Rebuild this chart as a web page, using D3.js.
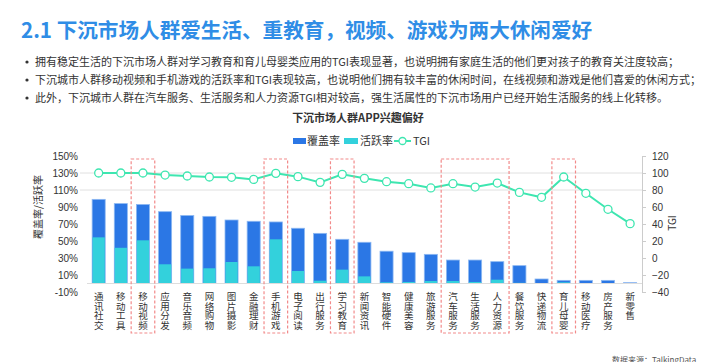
<!DOCTYPE html>
<html lang="zh">
<head>
<meta charset="UTF-8">
<title>下沉市场人群APP兴趣偏好</title>
<script src="https://d3js.org/d3.v7.min.js"></script>
<style>
  body { margin: 0; background: #fff; }
  svg { display: block; font-family: "Noto Sans CJK SC", "Noto Sans", sans-serif; }
</style>
</head>
<body>
<svg width="712" height="362"></svg>
<script>
const categories = ["通讯社交","移动工具","移动视频","应用分发","音乐音频","网络购物","图片摄影","金融理财","手机游戏","电子阅读","出行服务","学习教育","新闻资讯","智能硬件","健康美容","旅游服务","汽车服务","生活服务","人力资源","餐饮服务","快递物流","育儿母婴","移动医疗","房产服务","新零售"];
const coverage = [99, 94, 93, 84.5, 80, 79, 74.7, 73.2, 72.4, 65, 59, 52, 48.5, 38, 36.3, 34.3, 27.6, 27.6, 25.7, 21, 5.3, 3.7, 3.7, 3.7, 1];
const active   = [54.3, 42, 50.8, 22.6, 17.5, 17.9, 25.3, 20.2, 52, 14.7, 3.3, 16.3, 8.4, 1.4, 1.8, 2.9, 2.9, 1.8, 4.5, 0.8, 0.5, 1.4, 0.5, 0.5, 0.3];
const tgi      = [100, 100, 100, 97.6, 96.5, 95.3, 94.9, 92.5, 99.6, 95.7, 89, 98.4, 93.7, 89.8, 87.4, 82.4, 87.4, 83.5, 88.2, 77.2, 71.4, 95.3, 76.1, 57.3, 40.4];
const leftTicks = [-10, 10, 30, 50, 70, 90, 110, 130, 150];
const rightTicks = [-40, -20, 0, 20, 40, 60, 80, 100, 120];
const gridValues = [110, 130];
const highlightGroups = [["移动视频"], ["手机游戏"], ["学习教育"], ["汽车服务", "生活服务", "人力资源"], ["育儿母婴"]];
const bullets = [
  "拥有稳定生活的下沉市场人群对学习教育和育儿母婴类应用的TGI表现显著，也说明拥有家庭生活的他们更对孩子的教育关注度较高；",
  "下沉城市人群移动视频和手机游戏的活跃率和TGI表现较高，也说明他们拥有较丰富的休闲时间，在线视频和游戏是他们喜爱的休闲方式；",
  "此外，下沉城市人群在汽车服务、生活服务和人力资源TGI相对较高，强生活属性的下沉市场用户已经开始生活服务的线上化转移。"
];

const blue = "#2b77e5", cyan = "#33d1dc", green = "#3ee6b0";
const svg = d3.select("svg");

// header
svg.append("text").attr("x", 21).attr("y", 38)
  .attr("fill", "#2f8de6").attr("font-size", 20.6).attr("font-weight", "bold")
  .text("2.1 下沉市场人群爱生活、重教育，视频、游戏为两大休闲爱好");

bullets.forEach((t, i) => {
  const y = 66 + i * 18;
  svg.append("circle").attr("cx", 27).attr("cy", y - 4).attr("r", 1.6).attr("fill", "#333");
  svg.append("text").attr("x", 35).attr("y", y).attr("font-size", 11).attr("fill", "#333").text(t);
});

// chart title + legend
svg.append("text").attr("x", 358).attr("y", 122).attr("text-anchor", "middle")
  .attr("font-size", 11).attr("font-weight", "bold").attr("fill", "#333")
  .text("下沉市场人群APP兴趣偏好");

const legend = svg.append("g").attr("font-size", 11).attr("fill", "#333");
legend.append("rect").attr("x", 293).attr("y", 138).attr("width", 13).attr("height", 6).attr("fill", blue);
legend.append("text").attr("x", 307).attr("y", 145).text("覆盖率");
legend.append("rect").attr("x", 344).attr("y", 138).attr("width", 14).attr("height", 6).attr("fill", cyan);
legend.append("text").attr("x", 360).attr("y", 145).text("活跃率");
legend.append("line").attr("x1", 394).attr("x2", 411).attr("y1", 141).attr("y2", 141).attr("stroke", green).attr("stroke-width", 2);
legend.append("circle").attr("cx", 402.5).attr("cy", 141).attr("r", 3.5).attr("fill", "#fff").attr("stroke", green).attr("stroke-width", 1.3);
legend.append("text").attr("x", 413).attr("y", 145).text("TGI");

// scales
const x = d3.scaleBand().domain(categories).range([87.6, 641.2]).paddingInner(0.41).paddingOuter(0.205);
const yL = d3.scaleLinear().domain([-10, 150]).range([292, 156]);
const yR = d3.scaleLinear().domain([-40, 120]).range([292, 156]);
const cx = d => x(d) + x.bandwidth() / 2;

// grid
svg.selectAll("line.grid").data(gridValues).enter().append("line")
  .attr("x1", 80).attr("x2", 642).attr("y1", d => yL(d)).attr("y2", d => yL(d))
  .attr("stroke", "#e0e0e0");

// left axis (labels only)
const axL = svg.append("g").attr("transform", "translate(80,0)")
  .call(d3.axisLeft(yL).tickValues(leftTicks).tickFormat(d => d + "%").tickSize(0).tickPadding(2));
axL.select(".domain").remove();
axL.selectAll("text").attr("font-size", 10).attr("fill", "#333").attr("font-family", "Liberation Sans, Arial, sans-serif");

svg.append("text").attr("transform", "translate(42,207) rotate(-90)").attr("text-anchor", "middle")
  .attr("font-size", 10).attr("fill", "#333").text("覆盖率/活跃率");

// right axis
const axR = svg.append("g").attr("transform", "translate(642,0)")
  .call(d3.axisRight(yR).tickValues(rightTicks).tickSize(4).tickPadding(6).tickSizeOuter(4));
axR.select(".domain").attr("stroke", "#ccc");
axR.selectAll(".tick line").attr("stroke", "#ccc");
axR.selectAll("text").attr("font-size", 10).attr("fill", "#333").attr("font-family", "Liberation Sans, Arial, sans-serif");

svg.append("text").attr("transform", "translate(676,223) rotate(-90)").attr("text-anchor", "middle")
  .attr("font-size", 10).attr("fill", "#333").text("TGI");

// bars
svg.selectAll("rect.cov").data(categories).enter().append("rect")
  .attr("x", d => x(d)).attr("width", x.bandwidth())
  .attr("y", (d, i) => yL(coverage[i])).attr("height", (d, i) => yL(0) - yL(coverage[i]))
  .attr("fill", blue).attr("stroke", "#8db8f2").attr("stroke-width", 0.8);

svg.selectAll("rect.act").data(categories).enter().append("rect")
  .attr("x", d => x(d) + 0.4).attr("width", x.bandwidth() - 0.8)
  .attr("y", (d, i) => yL(active[i])).attr("height", (d, i) => yL(0) - yL(active[i]))
  .attr("fill", cyan);

// baseline
svg.append("line").attr("x1", 87).attr("x2", 642).attr("y1", yL(0)).attr("y2", yL(0)).attr("stroke", "#ddd");

// x labels, written vertically
svg.selectAll("text.xlab").data(categories).enter().append("text")
  .attr("class", "xlab")
  .attr("x", d => cx(d)).attr("y", 292)
  .style("writing-mode", "vertical-rl")
  .style("letter-spacing", "0px")
  .attr("font-size", 9.5).attr("fill", "#333")
  .text(d => d);

// TGI line
const line = d3.line().x((d, i) => cx(categories[i])).y(d => yR(d));
svg.append("path").datum(tgi).attr("d", line).attr("fill", "none").attr("stroke", green).attr("stroke-width", 2);
svg.selectAll("circle.tgi").data(tgi).enter().append("circle")
  .attr("cx", (d, i) => cx(categories[i])).attr("cy", d => yR(d)).attr("r", 4)
  .attr("fill", "#fff").attr("stroke", green).attr("stroke-width", 1.3);

// dashed highlight boxes
highlightGroups.forEach(g => {
  const x0 = cx(g[0]) - 11.8, x1 = cx(g[g.length - 1]) + 11.8;
  svg.append("rect").attr("x", x0).attr("y", 159).attr("width", x1 - x0).attr("height", 174)
    .attr("fill", "none").attr("stroke", "#f28a8a").attr("stroke-width", 1.2).attr("stroke-dasharray", "3,2");
});

// source
svg.append("text").attr("x", 612).attr("y", 363).attr("font-size", 8).attr("fill", "#555").text("数据来源：TalkingData");
</script>
</body>
</html>
